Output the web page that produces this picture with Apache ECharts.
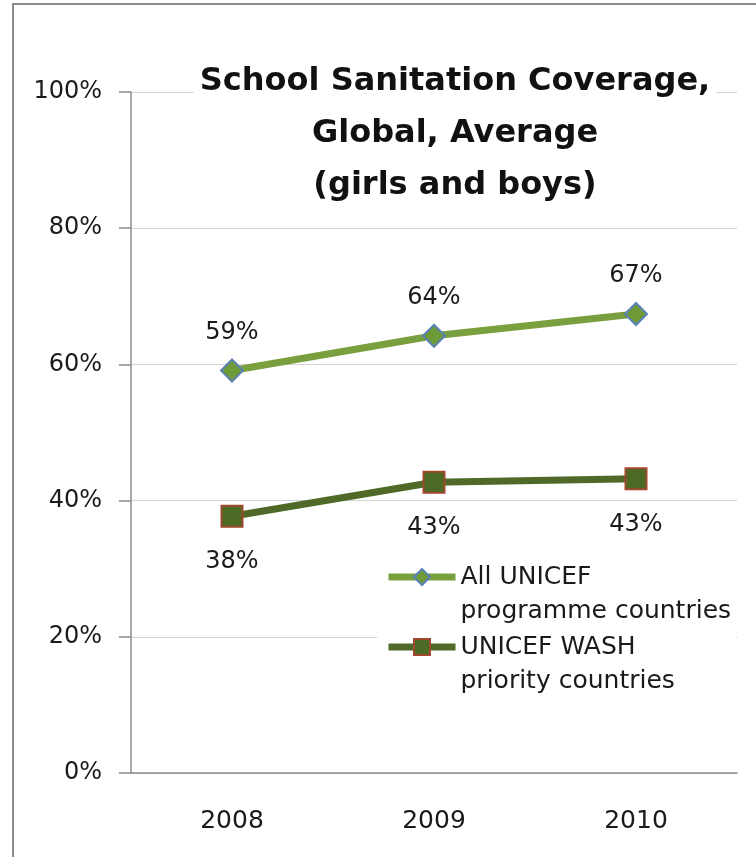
<!DOCTYPE html>
<html>
<head>
<meta charset="utf-8">
<script src="https://cdn.jsdelivr.net/npm/echarts@6/dist/echarts.min.js"></script>
<style>
  html, body { margin: 0; padding: 0; background: #fff; }
  #chart { width: 756px; height: 857px; }
</style>
</head>
<body>
<div id="chart"></div>
<script>
const titleLines = ['School Sanitation Coverage,', 'Global, Average', '(girls and boys)'];
const categories = ['2008', '2009', '2010'];
const seriesNames = ['All UNICEF\nprogramme countries', 'UNICEF WASH\npriority countries'];
const allUnicef = [59.1, 64.2, 67.4];
const washPriority = [37.7, 42.7, 43.2];
const yTicks = { min: 0, max: 100, interval: 20 };

const chart = echarts.init(document.getElementById('chart'));
const FONT = '"DejaVu Sans", sans-serif';
const pct = p => Math.round(p.value) + '%';

chart.setOption({
  animation: false,
  backgroundColor: '#fff',
  graphic: [
    {
      type: 'rect', silent: true, z: 10,
      shape: { x: 13, y: 4, width: 800, height: 900 },
      style: { fill: 'none', stroke: '#8c8c8c', lineWidth: 2 }
    },
    {
      type: 'text', silent: true, z: 10,
      x: 455, y: 56,
      style: {
        text: titleLines.join('\n'),
        font: 'bold 32px ' + FONT,
        fill: '#111',
        textAlign: 'center',
        textVerticalAlign: 'top',
        lineHeight: 52,
        backgroundColor: '#fff',
        padding: [0, 6]
      }
    }
  ],
  grid: { left: 131, right: 19, top: 92, bottom: 84, outerBoundsMode: 'none' },
  legend: {
    orient: 'vertical',
    left: 377,
    top: 521,
    z: 1,
    itemWidth: 67,
    itemHeight: 20,
    itemGap: -32,
    padding: [5, 5, 5, 8],
    backgroundColor: '#fff',
    selectedMode: false,
    lineStyle: { width: 7 },
    formatter: name => '\n' + name,
    textStyle: { fontFamily: FONT, fontSize: 25, lineHeight: 34, color: '#1a1a1a' },
    data: seriesNames
  },
  xAxis: {
    type: 'category',
    data: categories,
    axisLine: { lineStyle: { color: '#8c8c8c', width: 1.5 } },
    axisTick: { length: 8, lineStyle: { color: '#8c8c8c', width: 1.5 } },
    axisLabel: { fontFamily: FONT, fontSize: 25, color: '#1a1a1a', margin: 36 }
  },
  yAxis: {
    type: 'value',
    min: yTicks.min, max: yTicks.max, interval: yTicks.interval,
    axisLine: { show: true, lineStyle: { color: '#8c8c8c', width: 1.5 } },
    axisTick: { show: true, length: 12, lineStyle: { color: '#8c8c8c', width: 1.5 } },
    axisLabel: { fontFamily: FONT, fontSize: 24, color: '#1a1a1a', margin: 29, formatter: '{value}%' },
    splitLine: { lineStyle: { color: '#d4d4d4', width: 1 } }
  },
  series: [
    {
      name: seriesNames[0], type: 'line', data: allUnicef,
      symbol: 'diamond', symbolSize: 22, z: 3,
      lineStyle: { color: '#7a9f3e', width: 7 },
      itemStyle: { color: '#6f9a38', borderColor: '#5b82b5', borderWidth: 2 },
      label: { show: true, position: 'top', distance: 14, formatter: pct, fontFamily: FONT, fontSize: 24, color: '#1a1a1a' }
    },
    {
      name: seriesNames[1], type: 'line', data: washPriority,
      symbol: 'rect', symbolSize: 21, z: 3,
      lineStyle: { color: '#4f6a28', width: 7 },
      itemStyle: { color: '#4b6a24', borderColor: '#a0482c', borderWidth: 2 },
      label: { show: true, position: 'bottom', distance: 22, formatter: pct, fontFamily: FONT, fontSize: 24, color: '#1a1a1a' }
    }
  ]
});
</script>
</body>
</html>
